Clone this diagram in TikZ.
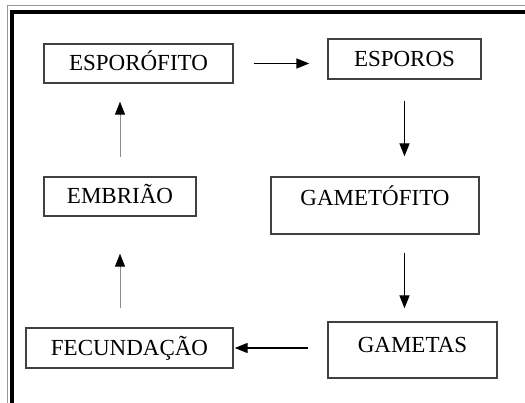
\documentclass[tikz,border=0pt]{standalone}
\usepackage{fontspec}
\setmainfont{Liberation Serif}
\usetikzlibrary{arrows.meta}

\tikzset{
  stage/.style={draw=black!75, line width=1.4pt, inner sep=0pt, text height=16.5pt, text depth=2pt,
    font=\fontsize{23}{27}\selectfont},
  seta/.style={line width=1.4pt, -{Triangle[length=13pt,width=10pt]}},
  setacinza/.style={draw=black!45, line width=1pt, -{Triangle[length=13pt,width=10pt,color=black]}},
}

\begin{document}
\begin{tikzpicture}[x=1pt,y=-1pt]
\useasboundingbox (0,0) rectangle (525,403);

% moldura
\draw[black!40, line width=0.8pt] (7,403) -- (7,5) -- (525,5);
\draw[line width=4pt] (12,403) -- (12,12) -- (525,12);

\node[stage, minimum width=189pt, minimum height=39pt] (esporofito) at (138.5,63.5) {ESPORÓFITO};
\node[stage, minimum width=153pt, minimum height=40pt] (esporos) at (404.5,59) {ESPOROS};
\node[stage, minimum width=208pt, minimum height=57pt, text depth=17pt] (gametofito) at (375,205.5) {GAMETÓFITO};
\node[stage, minimum width=169pt, minimum height=56pt, text depth=12pt] (gametas) at (412.5,350) {GAMETAS};
\node[stage, minimum width=207pt, minimum height=40pt] (fecundacao) at (129.5,348) {FECUNDAÇÃO};
\node[stage, minimum width=152pt, minimum height=39pt] (embriao) at (120,196.5) {EMBRIÃO};

% ciclo
\draw[seta, shorten <=20pt, shorten >=18pt] (esporofito.east) -- (esporofito.east -| esporos.west);
\draw[seta, shorten <=21pt, shorten >=20pt] (esporos.south) -- (esporos.south |- gametofito.north);
\draw[seta, shorten <=18pt, shorten >=13pt] (esporos.south |- gametofito.south) -- (esporos.south |- gametas.north);
\draw[seta, shorten <=19pt, shorten >=1pt] (gametas.west |- fecundacao.east) -- (fecundacao.east);
\draw[setacinza, shorten <=19pt, shorten >=37pt] (fecundacao.north -| embriao.south) -- (embriao.south);
\draw[setacinza, shorten <=19pt, shorten >=18pt] (embriao.north) -- (embriao.north |- esporofito.south);

\end{tikzpicture}
\end{document}
